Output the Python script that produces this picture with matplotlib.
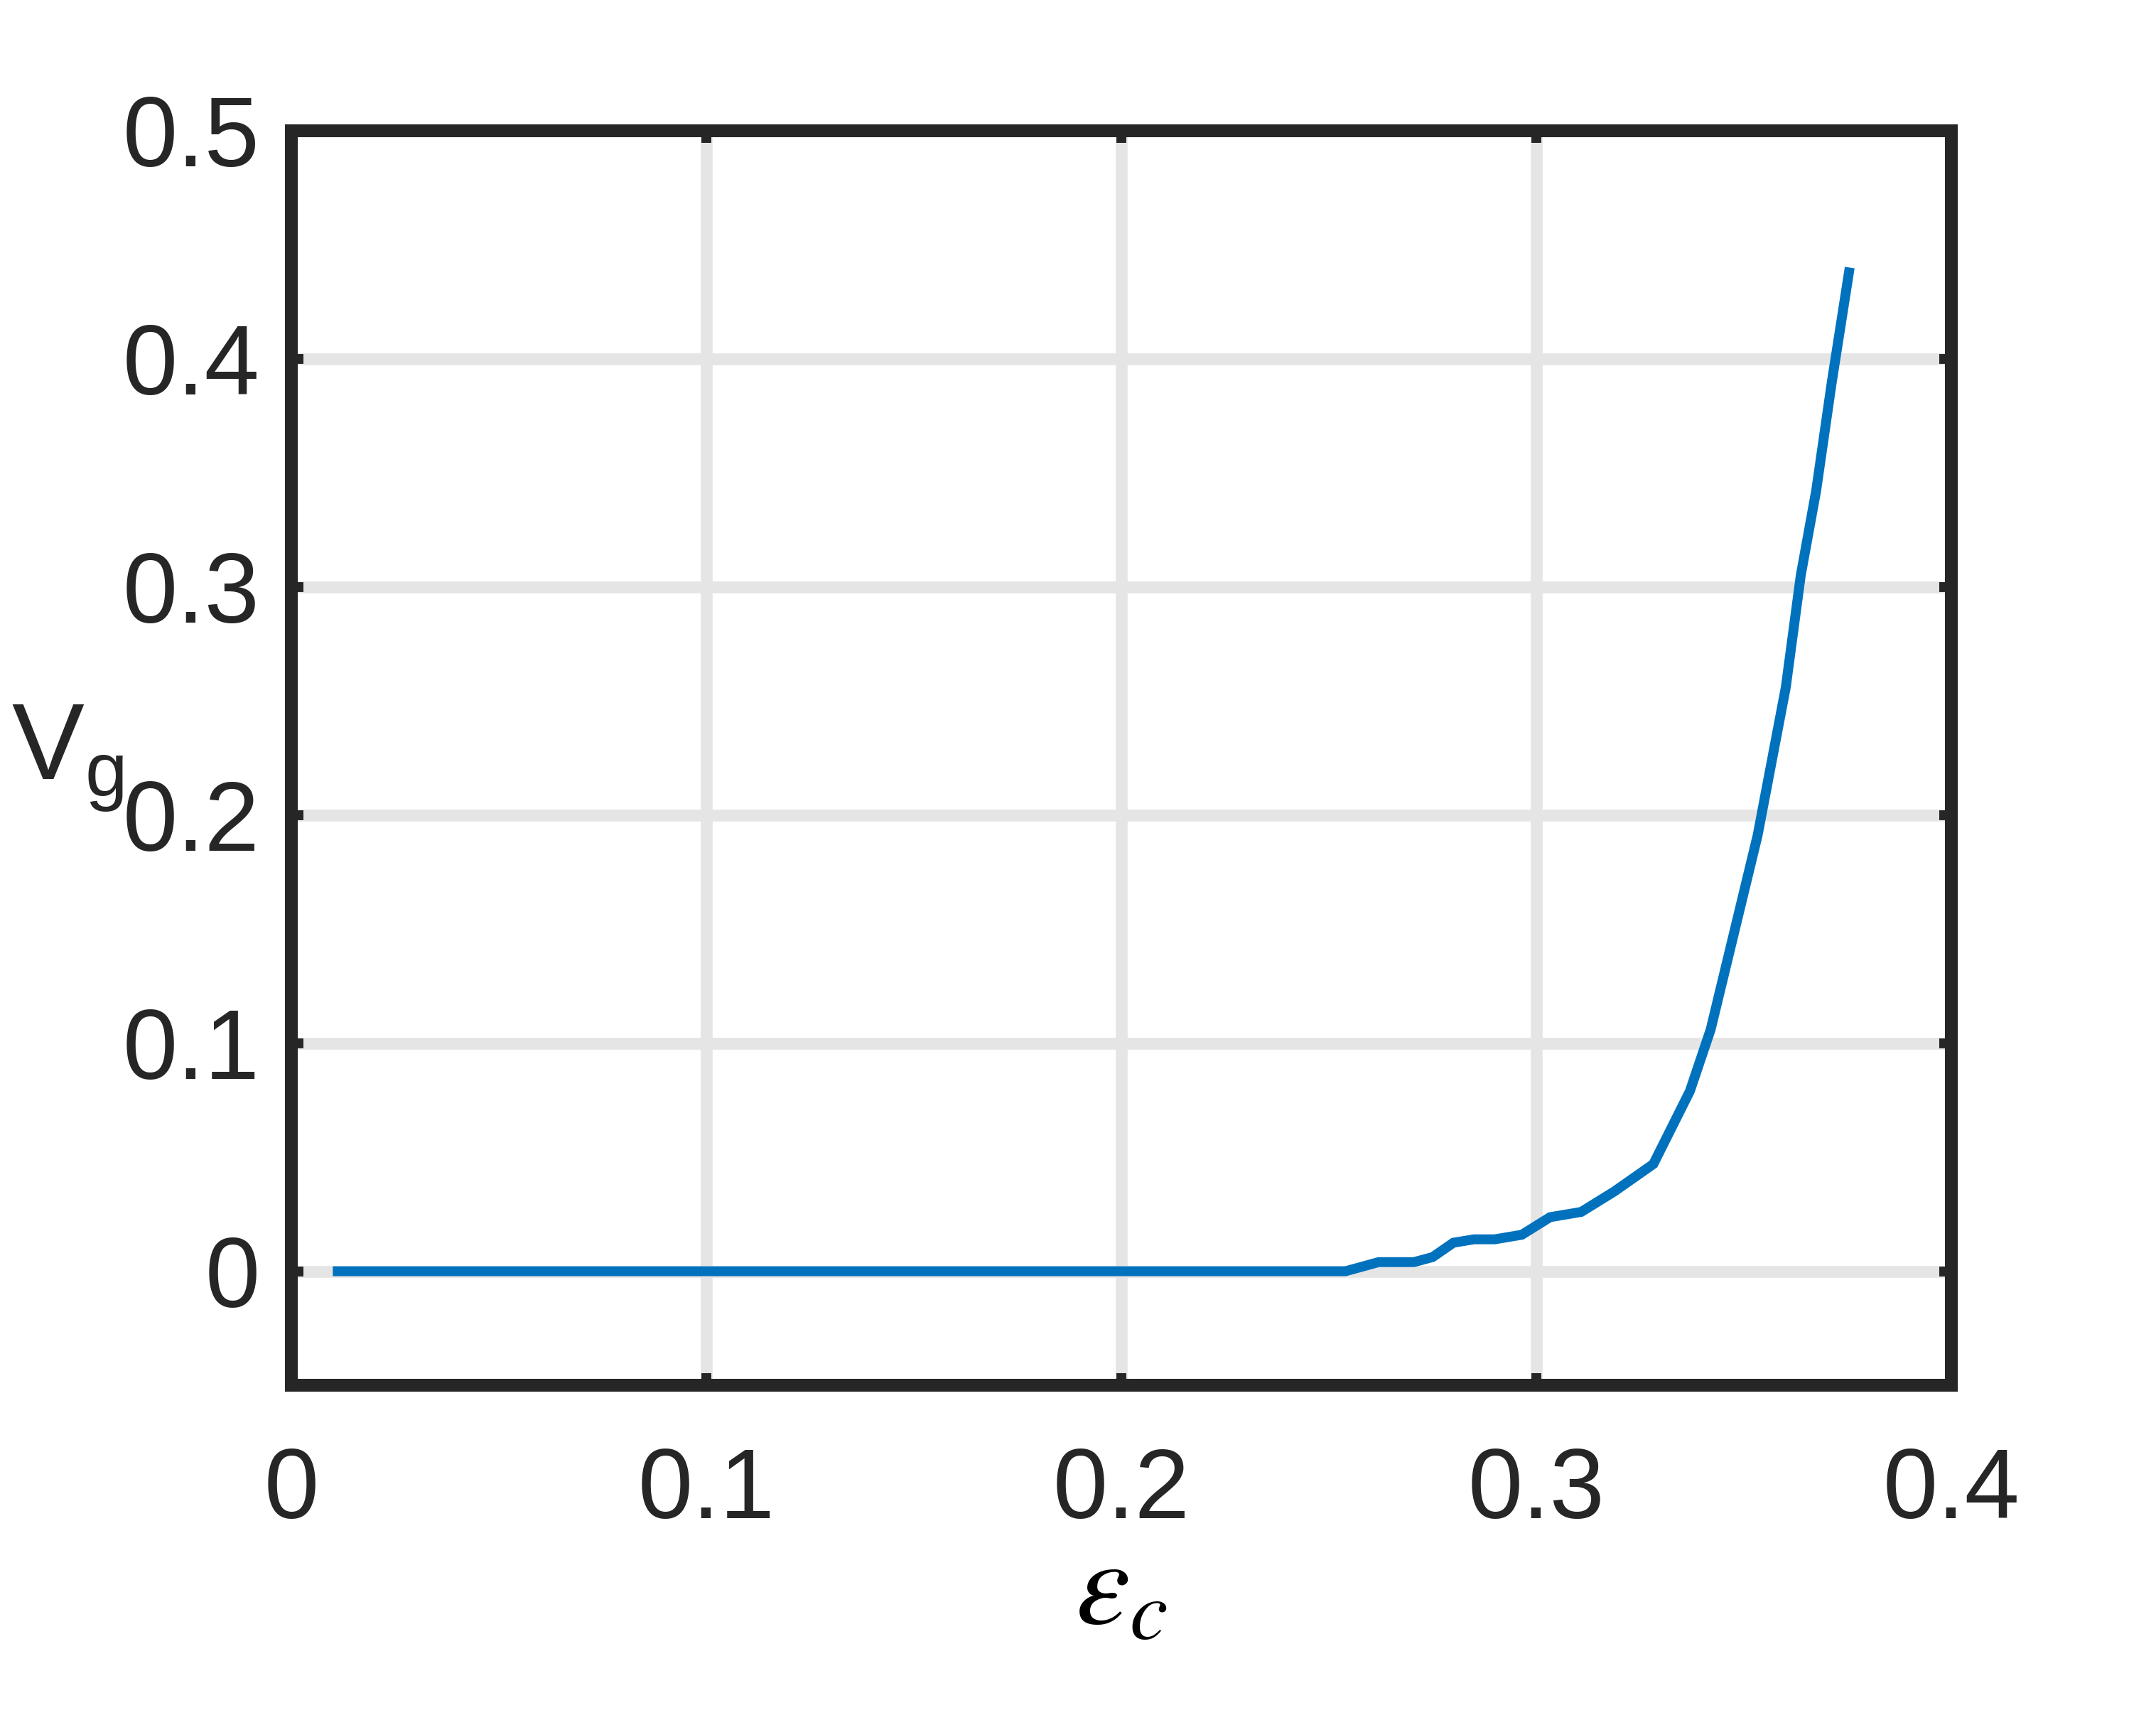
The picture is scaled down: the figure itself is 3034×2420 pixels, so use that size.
import matplotlib
matplotlib.use("Agg")
import matplotlib.pyplot as plt
import numpy as np

# =====================
# DATA
# =====================
eps_c = np.array([0.01, 0.254, 0.262, 0.2705, 0.275, 0.28, 0.285, 0.29, 0.2965,
                  0.3033, 0.3108, 0.3188, 0.3282, 0.337, 0.342, 0.3533, 0.3601,
                  0.3637, 0.3674, 0.3712, 0.3755])
v_g = np.array([0, 0, 0.004, 0.004, 0.0062, 0.0125, 0.014, 0.014, 0.016,
                0.0237, 0.026, 0.035, 0.047, 0.079, 0.106, 0.191, 0.256,
                0.305, 0.342, 0.39, 0.44])

xticks = [0, 0.1, 0.2, 0.3, 0.4]
xtick_labels = ["0", "0.1", "0.2", "0.3", "0.4"]
yticks = [0, 0.1, 0.2, 0.3, 0.4, 0.5]
ytick_labels = ["0", "0.1", "0.2", "0.3", "0.4", "0.5"]

# =====================
# STYLE
# =====================
plt.rcParams["font.family"] = ["Liberation Sans", "DejaVu Sans"]
plt.rcParams["mathtext.fontset"] = "custom"
plt.rcParams["mathtext.rm"] = "Liberation Sans"
plt.rcParams["mathtext.it"] = "Liberation Sans:italic"

dark = "#262626"

fig = plt.figure(figsize=(3034 / 200, 2420 / 200), dpi=200)
ax = fig.add_axes([0.1351, 0.1946, 0.7700, 0.7294])

ax.plot(eps_c, v_g, color="#0072BD", linewidth=5,
        solid_capstyle="butt", solid_joinstyle="miter", zorder=3)

ax.set_xlim(0, 0.4)
ax.set_ylim(-0.05, 0.5)
ax.set_xticks(xticks)
ax.set_xticklabels(xtick_labels)
ax.set_yticks(yticks)
ax.set_yticklabels(ytick_labels)

ax.grid(True, color="#e5e5e5", linewidth=6)
ax.set_axisbelow(True)

for s in ax.spines.values():
    s.set_linewidth(6.5)
    s.set_color(dark)

ax.tick_params(direction="in", length=6, width=5, color=dark,
               labelcolor=dark, labelsize=50, top=True, right=True)
ax.tick_params(axis="x", pad=31)
ax.tick_params(axis="y", pad=16)

ax.set_xlabel(r"$\varepsilon_c$", fontsize=62, color="black",
              math_fontfamily="stix", labelpad=-2)
ax.set_ylabel(r"$\mathrm{V_g}$", fontsize=55, color=dark, rotation=0,
              va="center", ha="center")
ax.yaxis.set_label_coords(-0.135, 0.5)

plt.savefig("out.png", dpi=200)
